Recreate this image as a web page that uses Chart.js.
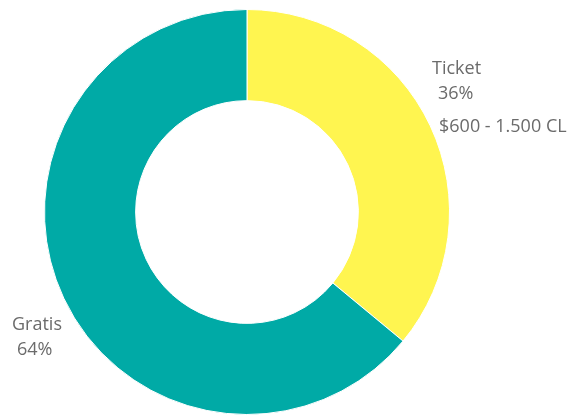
<!DOCTYPE html>
<html>
<head>
<meta charset="utf-8">
<script src="https://cdn.jsdelivr.net/npm/chart.js@4"></script>
<style>
  html, body { margin: 0; padding: 0; background: #fff; }
  #wrap { width: 571px; height: 415px; position: relative; }
</style>
</head>
<body>
<div id="wrap"><canvas id="pie"></canvas></div>
<script>
// data
const categories = ['Ticket', 'Gratis'];
const values = [36, 64];
const extraNotes = ['$600 - 1.500 CL', ''];
const sliceColors = ['#FFF550', '#00AAA6'];

// labels next to the ring
const sideLabels = {
  id: 'sideLabels',
  afterDraw(chart) {
    const c = chart.ctx;
    const total = values.reduce((a, b) => a + b, 0);
    c.save();
    c.fillStyle = '#6b6b6b';
    c.font = '18px "Open Sans"';
    c.textBaseline = 'alphabetic';
    c.textAlign = 'left';
    // Ticket
    c.fillText(categories[0], 432, 74);
    c.fillText(Math.round(values[0] / total * 100) + '%', 438, 99);
    c.fillText(extraNotes[0], 439, 132);
    // Gratis
    c.fillText(categories[1], 12, 330);
    c.fillText(Math.round(values[1] / total * 100) + '%', 17, 355);
    c.restore();
  }
};

document.addEventListener('DOMContentLoaded', function() {
  const ctx = document.getElementById('pie').getContext('2d');
  new Chart(ctx, {
    type: 'doughnut',
    data: {
      labels: categories,
      datasets: [{
        data: values,
        backgroundColor: sliceColors,
        borderColor: '#ffffff',
        borderWidth: 1
      }]
    },
    options: {
      responsive: true,
      maintainAspectRatio: false,
      animation: false,
      cutout: '55%',
      layout: { padding: { left: 44, right: 121, top: 9, bottom: 0 } },
      plugins: {
        legend: { display: false },
        tooltip: { enabled: false }
      }
    },
    plugins: [sideLabels]
  });
});
</script>
</body>
</html>
